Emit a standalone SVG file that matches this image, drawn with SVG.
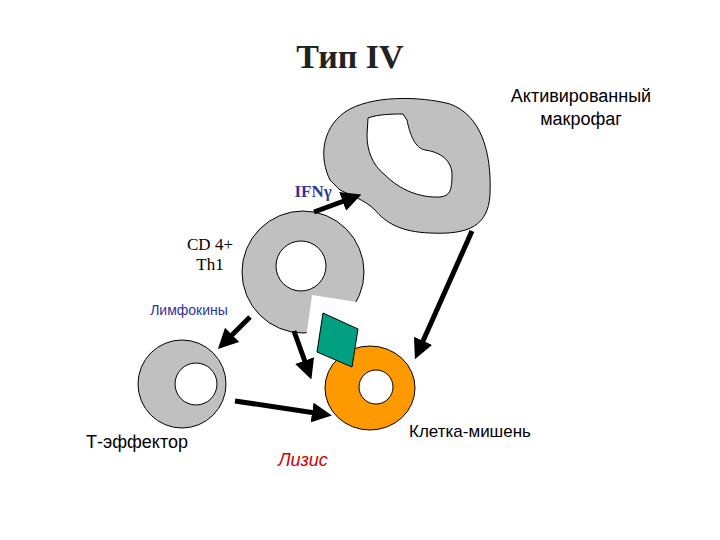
<svg xmlns="http://www.w3.org/2000/svg" width="720" height="540" viewBox="0 0 720 540">
<style>
.g{fill:#c0c0c0;stroke:#000;stroke-width:1}
.w{fill:#fff;stroke:#000;stroke-width:1}
.s{font-family:"Liberation Sans",Arial,sans-serif}
.r{font-family:"Liberation Serif","Times New Roman",serif}
.a{stroke:#000;stroke-width:5;fill:none;marker-end:url(#m)}
</style>
<defs><marker id="m" markerWidth="4" markerHeight="4" refX="2" refY="2" orient="auto"><path d="M0,0L4,2L0,4z" fill="#000"/></marker></defs>
<rect width="720" height="540" fill="#fff"/>
<text class="r" x="350" y="68" font-size="34" font-weight="bold" text-anchor="middle" fill="#222">Тип IV</text>
<g id="macrophage">
<path class="g" d="M330,180 C320,160 320,130 345,112 C370,95 420,96 450,104 C480,115 492,150 490,195 C488,225 470,235 430,233 C400,232 385,222 375,210 C365,200 350,195 340,190 Z"/>
<path class="w" d="M368,118 C378,114 395,114 403,114 L407,120 C410,135 415,148 425,150 C440,152 452,160 452,175 C452,190 450,196 440,197 C420,198 400,190 385,175 C372,165 367,150 367,135 Z"/>
<text class="s" x="581" y="102" font-size="18" text-anchor="middle">Активированный</text>
<text class="s" x="581" y="125" font-size="18" text-anchor="middle">макрофаг</text>
</g>
<g id="th1">
<circle class="g" cx="303" cy="272" r="61"/>
<circle class="w" cx="301" cy="266" r="25"/>
<path d="M312,295 L306,338 L370,338 L370,300 L357,302 Z" fill="#fff"/>
<text class="r" x="210" y="250" font-size="17" text-anchor="middle">CD 4+</text>
<text class="r" x="210" y="270" font-size="17" text-anchor="middle">Th1</text>
</g>
<g id="teffector">
<circle class="g" cx="182" cy="384" r="44"/>
<circle class="w" cx="196" cy="384" r="21"/>
<text class="s" x="137" y="448" font-size="18" text-anchor="middle">Т-эффектор</text>
</g>
<g id="target">
<ellipse fill="#ff9900" stroke="#000" cx="370" cy="388" rx="45" ry="42"/>
<circle class="w" cx="376" cy="387" r="17"/>
<text class="s" x="470" y="437" font-size="17" text-anchor="middle">Клетка-мишень</text>
</g>
<g id="antigen"><path d="M323,313 L358,329 L352,367 L317,352 Z" fill="#00a080" stroke="#000"/></g>
<g id="connectors">
<line class="a" x1="314" y1="212" x2="352" y2="198"/>
<line class="a" x1="294" y1="331" x2="308" y2="370"/>
<line class="a" x1="250" y1="317" x2="225" y2="342"/>
<line class="a" x1="235" y1="401" x2="322" y2="414"/>
<line class="a" x1="472" y1="231" x2="419" y2="350"/>
</g>
<text class="r" x="313" y="197" font-size="17" font-weight="bold" text-anchor="middle" fill="#333399">IFNγ</text>
<text class="s" x="189" y="315" font-size="14" text-anchor="middle" fill="#333399">Лимфокины</text>
<text class="s" x="303" y="466" font-size="18" font-style="italic" text-anchor="middle" fill="#cc0000">Лизис</text>
</svg>
